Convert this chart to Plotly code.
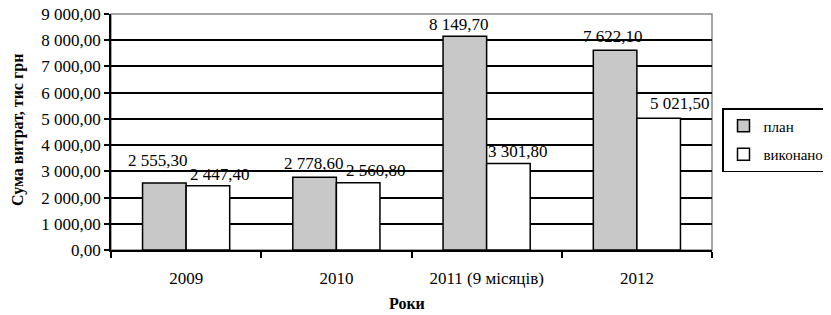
import plotly.graph_objects as go

categories = ["2009", "2010", "2011 (9 місяців)", "2012"]
plan = [2555.30, 2778.60, 8149.70, 7622.10]
done = [2447.40, 2560.80, 3301.80, 5021.50]
y_ticks = [0, 1000, 2000, 3000, 4000, 5000, 6000, 7000, 8000, 9000]

def fmt(v):
    s = f"{v:,.2f}"
    return s.replace(",", " ").replace(".", ",")

FONT = "Liberation Serif"
LBL_SIZE = 17

# page body has an 8px margin, so the figure is sized to fit the 831x315 window
W, H = 823, 307
L, R, T, B = 103, 119, 6, 65
PW, PH = W - L - R, H - T - B

# label placement tweaks (pixel offsets, as in the reference)
plan_dx = [-6, -1, -6, -2]
plan_dy = [11, 2, 0, 2]
done_dx = [12, 18, 10, 21]
done_dy = [0, 1, 0, 3]

fig = go.Figure()
fig.add_trace(go.Bar(
    name="план", x=categories, y=plan, legendgroup="plan",
    marker=dict(color="#c8c8c8", line=dict(color="black", width=1.5)),
))
fig.add_trace(go.Bar(
    name="виконано", x=categories, y=done, legendgroup="done",
    marker=dict(color="white", line=dict(color="black", width=1.5)),
))

BARGAP = 0.42
half_bar_px = (1 - BARGAP) * (PW / len(categories)) / 4

for i, c in enumerate(categories):
    fig.add_annotation(x=i, y=plan[i], xref="x", yref="y", text=fmt(plan[i]),
                       showarrow=False, xanchor="center", yanchor="bottom",
                       xshift=-half_bar_px + plan_dx[i], yshift=plan_dy[i],
                       font=dict(family=FONT, size=LBL_SIZE, color="black"))
    fig.add_annotation(x=i, y=done[i], xref="x", yref="y", text=fmt(done[i]),
                       showarrow=False, xanchor="center", yanchor="bottom",
                       xshift=half_bar_px + done_dx[i], yshift=done_dy[i],
                       font=dict(family=FONT, size=LBL_SIZE, color="black"))

# axis titles
fig.add_annotation(xref="paper", yref="paper", x=(10 - L) / PW, y=(T + PH - 122) / PH,
                   text="<b>Сума витрат, тис грн</b>", textangle=-90, showarrow=False,
                   xanchor="center", yanchor="middle",
                   font=dict(family=FONT, size=16, color="black"))
fig.add_annotation(xref="paper", yref="paper", x=(399 - L) / PW, y=(T + PH - 295) / PH,
                   text="<b>Роки</b>", showarrow=False,
                   xanchor="center", yanchor="middle",
                   font=dict(family=FONT, size=16, color="black"))

fig.update_layout(
    width=W, height=H,
    margin=dict(l=L, r=R, t=T, b=B, autoexpand=False),
    paper_bgcolor="white", plot_bgcolor="white",
    barmode="group", bargap=BARGAP, bargroupgap=0,
    font=dict(family=FONT, size=16, color="black"),
    showlegend=True,
    legend=dict(x=(714 - L) / PW, y=(T + PH - 100) / PH, xanchor="left", yanchor="top",
                bordercolor="black", borderwidth=1.5, bgcolor="white",
                font=dict(size=15, family=FONT), itemwidth=30, tracegroupgap=6),
)
fig.update_xaxes(
    type="category", range=[-0.5, len(categories) - 0.5],
    tickson="boundaries", ticks="outside", ticklen=6,
    tickcolor="black", tickwidth=1.5, automargin=False,
    showline=True, linecolor="black", linewidth=1.5, mirror=False,
    showgrid=False, ticklabelstandoff=12, ticklabeloverflow="allow",
    tickfont=dict(size=17, family=FONT),
)
fig.update_yaxes(
    range=[0, 9000], tickvals=y_ticks, ticktext=[fmt(v) for v in y_ticks],
    ticks="outside", ticklen=5, tickcolor="black", tickwidth=1.5, automargin=False,
    showline=True, linecolor="black", linewidth=1.5,
    showgrid=True, gridcolor="black", gridwidth=1.5,
    zeroline=False, ticklabeloverflow="allow",
    tickfont=dict(size=17, family=FONT),
)
fig.add_shape(type="rect", xref="paper", yref="paper", x0=0, x1=1, y0=0, y1=1,
              line=dict(color="#888888", width=1.5), layer="below")
fig.write_html("out.html")
